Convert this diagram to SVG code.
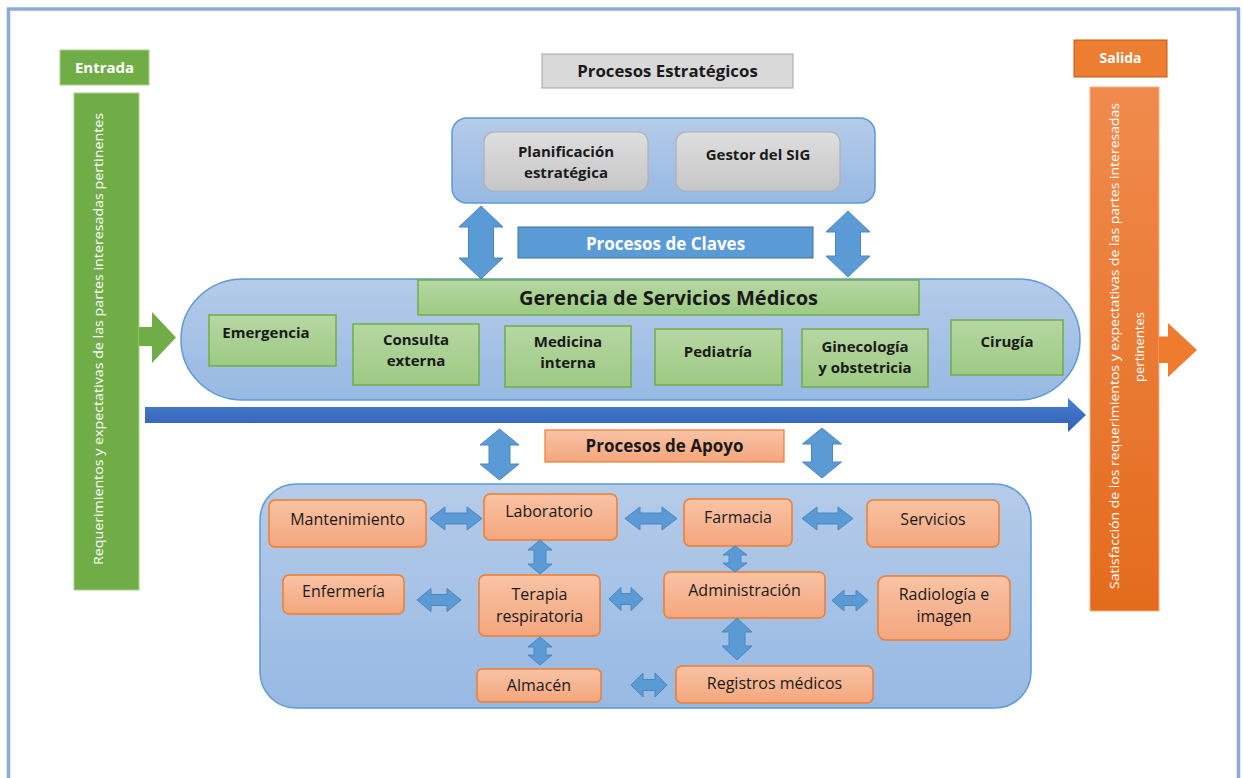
<svg xmlns="http://www.w3.org/2000/svg" width="1243" height="778" viewBox="0 0 1243 778">
<defs>
<linearGradient id="gBlue" x1="0" y1="0" x2="0" y2="1"><stop offset="0" stop-color="#b5cbe9"/><stop offset="1" stop-color="#97b9e3"/></linearGradient>
<linearGradient id="gGreen" x1="0" y1="0" x2="0" y2="1"><stop offset="0" stop-color="#b6d7a3"/><stop offset="1" stop-color="#9dca83"/></linearGradient>
<linearGradient id="gOrange" x1="0" y1="0" x2="0" y2="1"><stop offset="0" stop-color="#f8c3a5"/><stop offset="1" stop-color="#f4a67d"/></linearGradient>
<linearGradient id="gGray" x1="0" y1="0" x2="0" y2="1"><stop offset="0" stop-color="#dedede"/><stop offset="1" stop-color="#c6c6c6"/></linearGradient>
<linearGradient id="gOut" x1="0" y1="0" x2="0" y2="1"><stop offset="0" stop-color="#f08b4d"/><stop offset="1" stop-color="#e46b1c"/></linearGradient>
<linearGradient id="gArrow" x1="0" y1="0" x2="0" y2="1"><stop offset="0" stop-color="#4a80d2"/><stop offset="1" stop-color="#2f5fb4"/></linearGradient>
</defs>
<style>
text{font-family:"Open Sans","Liberation Sans",sans-serif;fill:#1a1a1a;text-anchor:middle}
.b{font-weight:bold}
.w{fill:#ffffff}
.cont{fill:url(#gBlue);stroke:#5b9bd5;stroke-width:1.5}
.gbox{fill:url(#gGreen);stroke:#70ad47;stroke-width:1.5}
.obox{fill:url(#gOrange);stroke:#ed7d31;stroke-width:1.5}
.gray{fill:url(#gGray);stroke:#b0b0b0;stroke-width:1.2}
.dbl{fill:#5b9bd5;stroke:#4a86c2;stroke-width:1}
.t14{font-size:15px}
.t16{font-size:16px}
.hd{font-size:17px}
.rot{font-size:13px}
</style>
<rect x="8.5" y="9" width="1230" height="820" fill="#ffffff" stroke="#8eaadb" stroke-width="3.5"/>

<g id="entrada">
<rect x="60" y="50" width="89" height="35" fill="#70ad47" stroke="#a9d18e" stroke-width="1"/>
<text class="b w" x="104.5" y="72.5" font-size="15">Entrada</text>
</g>
<g id="requerimientos">
<rect x="74" y="93" width="65" height="497" fill="#70ad47" stroke="#a9d18e" stroke-width="1"/>
<path d="M139,327 L152,327 L152,312 L176,337.5 L152,363 L152,346 L139,346 Z" fill="#70ad47"/>
<text class="rot w" transform="translate(103,339) rotate(-90)" textLength="452" lengthAdjust="spacingAndGlyphs">Requerimientos y expectativas  de las partes interesadas pertinentes</text>
</g>

<g id="salida">
<rect x="1074" y="40" width="93" height="37" fill="#ed7d31" stroke="#c55a11" stroke-width="1"/>
<text class="b w" x="1120.5" y="63" font-size="14">Salida</text>
</g>
<g id="satisfaccion">
<rect x="1090" y="87" width="69" height="524" fill="url(#gOut)" stroke="#f4b183" stroke-width="1"/>
<path d="M1159,336.5 L1168,336.5 L1168,323 L1197,350 L1168,377 L1168,363 L1159,363 Z" fill="#ef7b2f"/>
<text class="rot w" transform="translate(1119,346) rotate(-90)" textLength="486" lengthAdjust="spacingAndGlyphs">Satisfacción de los requerimientos y expectativas de las partes interesadas</text>
<text class="rot w" transform="translate(1144,347) rotate(-90)">pertinentes</text>
</g>

<g id="procesos-estrategicos">
<rect x="542" y="54" width="251" height="34" fill="#d9d9d9" stroke="#a6a6a6" stroke-width="1"/>
<text class="b" x="667.5" y="77" font-size="16.8">Procesos Estratégicos</text>
</g>
<g id="estrategicos-container">
<rect class="cont" x="452" y="118" width="423" height="85" rx="15"/>
</g>
<g id="planificacion">
<rect class="gray" x="484" y="132" width="164" height="59" rx="10"/>
<text class="b t14" x="566" y="157">Planificación</text>
<text class="b t14" x="566" y="178">estratégica</text>
</g>
<g id="gestor">
<rect class="gray" x="676" y="132" width="164" height="59" rx="10"/>
<text class="b t14" x="758" y="160">Gestor del SIG</text>
</g>

<g id="procesos-claves">
<rect x="518" y="227" width="295" height="31" fill="#5b9bd5" stroke="#41719c" stroke-width="1"/>
<text class="b w hd" x="665.5" y="250">Procesos de Claves</text>
</g>

<g id="gerencia-container">
<rect class="cont" x="181" y="279" width="899" height="121" rx="62" ry="60"/>
</g>
<g id="gerencia">
<rect class="gbox" x="418" y="280" width="501" height="35"/>
<text class="b" x="668.5" y="305" font-size="20">Gerencia de Servicios Médicos</text>
</g>
<g id="emergencia">
<rect class="gbox" x="209" y="315" width="127" height="51"/>
<text class="b t14" x="266" y="338">Emergencia</text>
</g>
<g id="consulta">
<rect class="gbox" x="353" y="324" width="126" height="61"/>
<text class="b t14" x="416" y="345">Consulta</text>
<text class="b t14" x="416" y="366">externa</text>
</g>
<g id="medicina">
<rect class="gbox" x="505" y="326" width="126" height="61"/>
<text class="b t14" x="568" y="347">Medicina</text>
<text class="b t14" x="568" y="368">interna</text>
</g>
<g id="pediatria">
<rect class="gbox" x="655" y="329" width="127" height="56"/>
<text class="b t14" x="718" y="357">Pediatría</text>
</g>
<g id="ginecologia">
<rect class="gbox" x="802" y="329" width="126" height="58"/>
<text class="b t14" x="865" y="352">Ginecología</text>
<text class="b t14" x="865" y="373">y obstetricia</text>
</g>
<g id="cirugia">
<rect class="gbox" x="951" y="320" width="112" height="55"/>
<text class="b t14" x="1007" y="347">Cirugía</text>
</g>

<g id="procesos-apoyo">
<rect x="545" y="430" width="239" height="32" fill="url(#gOrange)" stroke="#ed7d31" stroke-width="1.2"/>
<text class="b hd" x="664.5" y="452">Procesos de Apoyo</text>
</g>

<g id="apoyo-container">
<rect class="cont" x="260" y="484" width="771" height="224" rx="36"/>
</g>
<g id="mantenimiento">
<rect class="obox" x="269" y="500" width="157" height="47" rx="6"/>
<text class="t16" x="347.5" y="525">Mantenimiento</text>
</g>
<g id="laboratorio">
<rect class="obox" x="484" y="494" width="133" height="46" rx="6"/>
<text class="t16" x="549" y="517">Laboratorio</text>
</g>
<g id="farmacia">
<rect class="obox" x="684" y="499" width="108" height="47" rx="6"/>
<text class="t16" x="738" y="523">Farmacia</text>
</g>
<g id="servicios">
<rect class="obox" x="867" y="500" width="132" height="47" rx="6"/>
<text class="t16" x="933" y="525">Servicios</text>
</g>
<g id="enfermeria">
<rect class="obox" x="283" y="575" width="121" height="39" rx="6"/>
<text class="t16" x="343.5" y="597">Enfermería</text>
</g>
<g id="terapia">
<rect class="obox" x="479" y="575" width="121" height="61" rx="6"/>
<text class="t16" x="539.5" y="600">Terapia</text>
<text class="t16" x="539.5" y="622">respiratoria</text>
</g>
<g id="administracion">
<rect class="obox" x="664" y="572" width="161" height="46" rx="6"/>
<text class="t16" x="744.5" y="596">Administración</text>
</g>
<g id="radiologia">
<rect class="obox" x="878" y="576" width="132" height="64" rx="8"/>
<text class="t16" x="944" y="600">Radiología e</text>
<text class="t16" x="944" y="622">imagen</text>
</g>
<g id="almacen">
<rect class="obox" x="477" y="669" width="124" height="33" rx="5"/>
<text class="t16" x="539" y="691">Almacén</text>
</g>
<g id="registros">
<rect class="obox" x="676" y="666" width="197" height="37" rx="6"/>
<text class="t16" x="774.5" y="689">Registros médicos</text>
</g>

<g id="connectors">
<path d="M145,407 L1068,407 L1068,398 L1086,415 L1068,432 L1068,423 L145,423 Z" fill="url(#gArrow)"/>
<path class="dbl" d="M481,206 L503,227 L493.5,227 L493.5,258 L503,258 L481,279 L459,258 L468.5,258 L468.5,227 L459,227 Z"/>
<path class="dbl" d="M848,211 L870,232 L860.5,232 L860.5,256 L870,256 L848,277 L826,256 L835.5,256 L835.5,232 L826,232 Z"/>
<path class="dbl" d="M499.5,429 L519,445 L510,445 L510,464 L519,464 L499.5,480 L480,464 L489,464 L489,445 L480,445 Z"/>
<path class="dbl" d="M822,428 L841.5,444 L832.5,444 L832.5,462 L841.5,462 L822,478 L802.5,462 L811.5,462 L811.5,444 L802.5,444 Z"/>
<path class="dbl" d="M540,540 L552,550 L546,550 L546,564 L552,564 L540,574 L528,564 L534,564 L534,550 L528,550 Z"/>
<path class="dbl" d="M735,546 L747,555 L741,555 L741,563 L747,563 L735,572 L723,563 L729,563 L729,555 L723,555 Z"/>
<path class="dbl" d="M540,637 L552,647 L546,647 L546,655 L552,655 L540,665 L528,655 L534,655 L534,647 L528,647 Z"/>
<path class="dbl" d="M737,618 L752,632 L745,632 L745,646 L752,646 L737,660 L722,646 L729,646 L729,632 L722,632 Z"/>
<path class="dbl" d="M430,518.5 L445,507 L445,513 L467,513 L467,507 L482,518.5 L467,530 L467,524 L445,524 L445,530 Z"/>
<path class="dbl" d="M625,518.5 L640,507 L640,513 L662,513 L662,507 L677,518.5 L662,530 L662,524 L640,524 L640,530 Z"/>
<path class="dbl" d="M802,518.5 L817,507 L817,513 L838,513 L838,507 L853,518.5 L838,530 L838,524 L817,524 L817,530 Z"/>
<path class="dbl" d="M417,600 L431,588.5 L431,594.5 L447,594.5 L447,588.5 L461,600 L447,611.5 L447,605.5 L431,605.5 L431,611.5 Z"/>
<path class="dbl" d="M609,599 L621,587.5 L621,593.5 L631,593.5 L631,587.5 L643,599 L631,610.5 L631,604.5 L621,604.5 L621,610.5 Z"/>
<path class="dbl" d="M832,600.5 L844,590 L844,595.5 L856,595.5 L856,590 L868,600.5 L856,611 L856,605.5 L844,605.5 L844,611 Z"/>
<path class="dbl" d="M631,685 L643,673 L643,679.5 L655,679.5 L655,673 L667,685 L655,697 L655,690.5 L643,690.5 L643,697 Z"/>
</g>
</svg>
